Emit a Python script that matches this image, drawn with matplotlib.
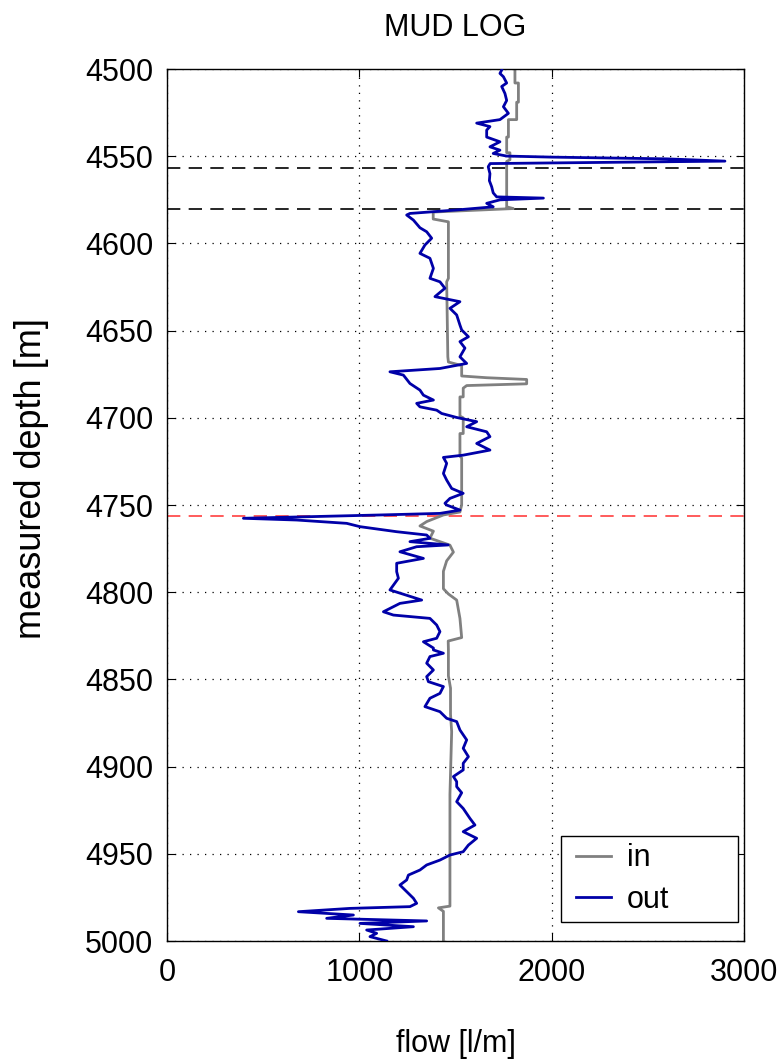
import matplotlib
matplotlib.use("Agg")
import matplotlib.pyplot as plt
from matplotlib.patches import Rectangle

out_depth = [4500.6, 4502.5, 4504.4, 4508, 4510, 4514, 4518, 4521.6, 4525.4, 4529, 4531, 4533, 4535, 4539,
             4541.7, 4544.6, 4546.5, 4548.4, 4549.9, 4550.5, 4551.5, 4552.8, 4553.5, 4554.2, 4556, 4560, 4564,
             4567.5, 4571, 4573.3, 4574, 4575, 4577, 4579, 4580.8, 4582.8, 4583.7, 4586.6, 4591, 4593.3, 4597,
             4600.9, 4605.7, 4608.5, 4614.3, 4620, 4622, 4625.7, 4630.5, 4633.4, 4637.2, 4641, 4646.8, 4649.6,
             4653.5, 4656.3, 4660, 4665, 4666.9, 4668.8, 4671.7, 4673.6, 4675.5, 4680.3, 4684.1, 4687, 4689.8,
             4691.7, 4693.7, 4695.6, 4697.5, 4699.8, 4702.2, 4705.1, 4708, 4710.8, 4714.7, 4718.5, 4721.4, 4722.7,
             4726.1, 4731.9, 4735.7, 4740.5, 4743.3, 4746.2, 4749, 4750, 4752.9, 4754.8, 4755.7, 4757.6, 4758.6,
             4760.5, 4762.4, 4765.3, 4767.2, 4769.1, 4771, 4772.9, 4773.9, 4776.8, 4780.6, 4783.4, 4788.2, 4792,
             4798.7, 4804.5, 4806.4, 4811.2, 4813.1, 4815, 4818.8, 4822.6, 4826.4, 4828.4, 4832, 4833.1, 4835,
             4836.9, 4840.7, 4844.6, 4848.4, 4851.3, 4854.1, 4858, 4860.8, 4865.6, 4868.5, 4872.3, 4874.2, 4879,
             4884.7, 4889.5, 4894.3, 4898.1, 4901.9, 4905.7, 4908.6, 4911.5, 4915, 4920.1, 4924, 4929.7, 4933.5,
             4937.3, 4941.1, 4945, 4948.8, 4950.7, 4953.6, 4956.4, 4959.3, 4962.2, 4965, 4967.9, 4971.7, 4975.5,
             4978.4, 4980.3, 4981.3, 4983.2, 4985.1, 4987, 4988.5, 4989.9, 4991.8, 4993.7, 4995.6, 4997.5, 5000]
out_flow = [1740, 1731, 1749, 1766, 1740, 1757, 1766, 1749, 1775, 1731, 1610, 1679, 1662, 1662,
            1731, 1679, 1731, 1696, 1766, 2000, 2600, 2901, 2300, 1680, 1670, 1679, 1676,
            1688, 1696, 1714, 1957, 1731, 1662, 1696, 1506, 1263, 1246, 1281, 1315, 1350, 1376,
            1341, 1315, 1367, 1385, 1367, 1419, 1445, 1393, 1523, 1471, 1506, 1523, 1532,
            1567, 1523, 1549, 1523, 1540, 1558, 1419, 1159, 1229, 1263, 1315, 1333, 1385,
            1298, 1315, 1402, 1428, 1506, 1610, 1558, 1662, 1679, 1610, 1679, 1540, 1437,
            1454, 1437, 1454, 1480, 1540, 1471, 1445, 1454, 1523, 1419, 1107, 397, 674,
            934, 1003, 1194, 1350, 1367, 1263, 1462, 1298, 1211, 1333, 1194, 1194, 1203,
            1159, 1324, 1211, 1125, 1177, 1367, 1402, 1419, 1402, 1333, 1385, 1385, 1437,
            1367, 1350, 1385, 1350, 1359, 1437, 1419, 1367, 1341, 1419, 1454, 1506, 1523,
            1558, 1540, 1567, 1540, 1540, 1489, 1506, 1506, 1532, 1506, 1540, 1575, 1601,
            1540, 1610, 1567, 1540, 1471, 1419, 1350, 1315, 1255, 1246, 1211, 1246, 1281,
            1298, 1263, 951, 683, 969, 830, 1350, 1003, 1281, 1038, 1090, 1055, 1142]

in_depth = [4500, 4508, 4508, 4519, 4519, 4529, 4529, 4539, 4539, 4548, 4548, 4552, 4553, 4579, 4580,
            4582, 4586, 4587.6, 4620, 4622, 4665, 4668, 4670, 4676, 4677, 4678, 4680.5, 4681.5, 4683,
            4688, 4688, 4699, 4700, 4709, 4709, 4722, 4723, 4750, 4754, 4755.7, 4759.5, 4762, 4765,
            4769, 4773, 4777, 4782, 4788, 4798, 4801, 4804.5, 4815, 4826, 4828, 4833, 4848, 4855,
            4870, 4880, 4916, 4980, 4981, 4983, 5000]
in_flow = [1809, 1809, 1827, 1827, 1818, 1818, 1775, 1775, 1766, 1766, 1783, 1783, 1766, 1766, 1800,
           1384, 1384, 1463, 1463, 1454, 1460, 1463, 1532, 1532, 1662, 1870, 1870, 1558, 1540,
           1540, 1523, 1523, 1540, 1540, 1523, 1523, 1532, 1532, 1523, 1437, 1350, 1315, 1385,
           1367, 1471, 1489, 1454, 1437, 1437, 1463, 1506, 1523, 1532, 1462, 1463, 1463, 1474,
           1474, 1480, 1471, 1471, 1411, 1437, 1437]

black_marks = [4556.5, 4580.5]
red_mark = 4756.3

x_ticks = [0, 1000, 2000, 3000]
y_ticks = list(range(4500, 5001, 50))

plt.rcParams['font.family'] = ['Liberation Sans', 'DejaVu Sans']

fig = plt.figure(figsize=(7.78, 10.64), dpi=100)
ax = fig.add_axes([0.2147, 0.1156, 0.9563 - 0.2147, 0.9351 - 0.1156])

for d in black_marks:
    ax.axhline(d, color='black', lw=1.2, ls=(0, (8, 5)), zorder=1)
ax.axhline(red_mark, color='#ff4040', lw=1.2, ls=(0, (8, 5)), zorder=1)

ax.plot(in_flow, in_depth, color='#808080', lw=2.0, label='in', zorder=2)
ax.plot(out_flow, out_depth, color='#0000a8', lw=2.0, label='out', zorder=3)

ax.set_xlim(0, 3000)
ax.set_ylim(5000, 4500)
ax.set_xticks(x_ticks)
ax.set_yticks(y_ticks)
ax.grid(True, color='black', ls=(0, (1, 5)), lw=0.9)
ax.tick_params(direction='in', top=True, right=True, labelsize=22, length=6)
ax.tick_params(axis='y', pad=10)
ax.tick_params(axis='x', pad=12)
for s in ax.spines.values():
    s.set_linewidth(1.0)

ax.set_title('MUD LOG', fontsize=22, pad=24)
ax.set_xlabel('flow [l/m]', fontsize=22, labelpad=30)
ax.set_ylabel('measured depth [m]', fontsize=26)
ax.yaxis.set_label_coords(-0.205, 0.53)

# legend frame (MATLAB-style wide box)
frame = Rectangle((0.6828, 0.0218), 0.9896 - 0.6828, 0.1204 - 0.0218, transform=ax.transAxes,
                  facecolor='white', edgecolor='black', lw=1.0, zorder=5)
ax.add_patch(frame)
leg = ax.legend(loc='center left', bbox_to_anchor=(0.6828, 0.0711), fontsize=22,
                frameon=False, borderaxespad=0, borderpad=0.5, handlelength=1.15,
                handletextpad=0.5, labelspacing=0.38)
leg.set_zorder(6)

fig.savefig('out.png', dpi=100)
